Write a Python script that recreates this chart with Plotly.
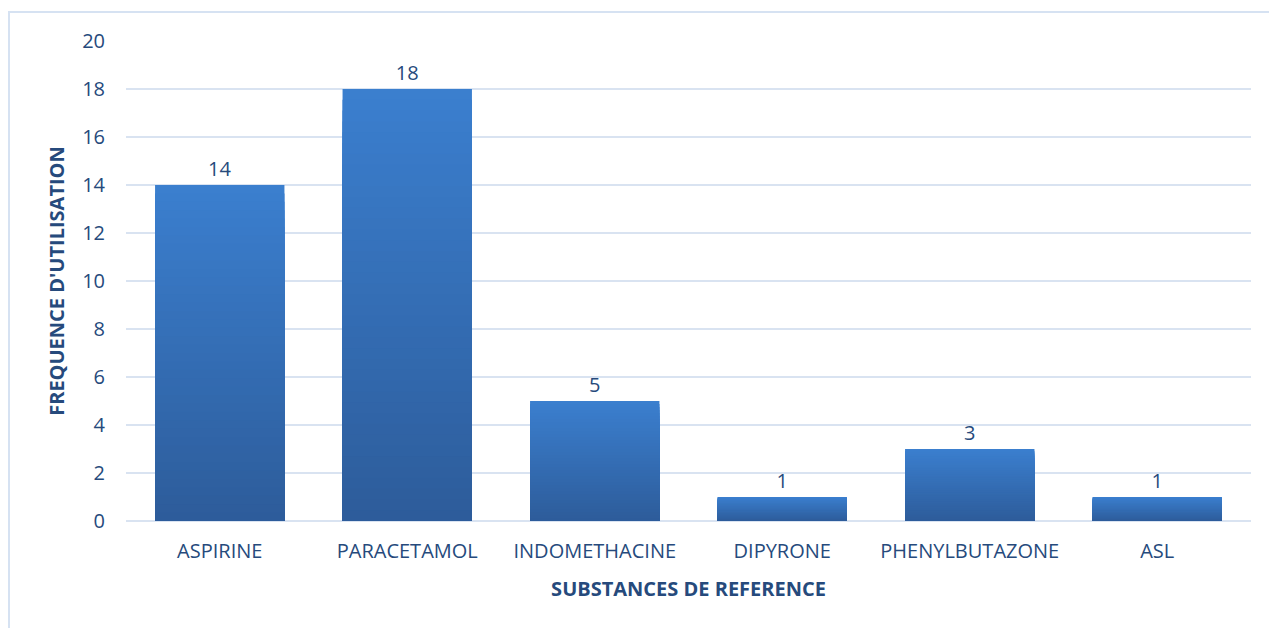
import plotly.graph_objects as go

categories = ["ASPIRINE", "PARACETAMOL", "INDOMETHACINE", "DIPYRONE", "PHENYLBUTAZONE", "ASL"]
values = [14, 18, 5, 1, 3, 1]
y_ticks = [0, 2, 4, 6, 8, 10, 12, 14, 16, 18, 20]

TEXT = "#264A7C"
GRID = "#D9E3F1"
TOP = (0x3B, 0x7F, 0xCF)
BOT = (0x2D, 0x5C, 0x9A)
N = 40
FONT = "Open Sans"
FS = 20

fig = go.Figure()

# gradient bars: nested bars from 0 up to a fraction of each value,
# tallest (lightest) first so shorter (darker) ones sit on top
for k in range(N - 1, -1, -1):
    t = (k + 0.5) / N
    c = tuple(round(BOT[i] + (TOP[i] - BOT[i]) * t) for i in range(3))
    fig.add_trace(go.Bar(
        x=categories,
        y=[v * (k + 1) / N for v in values],
        marker=dict(color="rgb(%d,%d,%d)" % c, line=dict(width=0)),
        width=0.69,
        showlegend=False,
        hoverinfo="skip",
    ))

# labels
fig.add_trace(go.Bar(
    x=categories,
    y=values,
    marker=dict(color="rgba(0,0,0,0)", line=dict(width=0)),
    width=0.69,
    text=[str(v) for v in values],
    textposition="outside",
    textfont=dict(family=FONT, size=FS, color=TEXT),
    cliponaxis=False,
    showlegend=False,
))

fig.update_layout(
    barmode="overlay",
    width=1269,
    height=628,
    margin=dict(l=126, r=18, t=41, b=107),
    paper_bgcolor="white",
    plot_bgcolor="white",
    font=dict(family=FONT, color=TEXT),
    xaxis=dict(
        title=dict(text="<b>SUBSTANCES DE REFERENCE</b>", font=dict(family=FONT, size=FS, color=TEXT), standoff=18),
        tickfont=dict(family=FONT, size=FS, color=TEXT),
        showgrid=False,
        showline=False,
        zeroline=False,
        ticks="",
        ticklabelstandoff=16,
    ),
    yaxis=dict(
        title=dict(text="<b>FREQUENCE D'UTILISATION</b>", font=dict(family=FONT, size=FS, color=TEXT), standoff=12),
        range=[0, 20],
        tickvals=y_ticks,
        tickfont=dict(family=FONT, size=FS, color=TEXT),
        showgrid=True,
        gridcolor=GRID,
        gridwidth=2,
        zeroline=True,
        zerolinecolor=GRID,
        zerolinewidth=2,
        showline=False,
        ticks="",
        ticklabelstandoff=20,
    ),
    shapes=[dict(
        type="rect", xref="paper", yref="paper",
        x0=-0.104, x1=1.2, y0=-0.5, y1=1.0604,
        line=dict(color="#D6E2F2", width=2),
        fillcolor="rgba(0,0,0,0)",
        layer="below",
    )],
)

fig.write_html("out.html")
